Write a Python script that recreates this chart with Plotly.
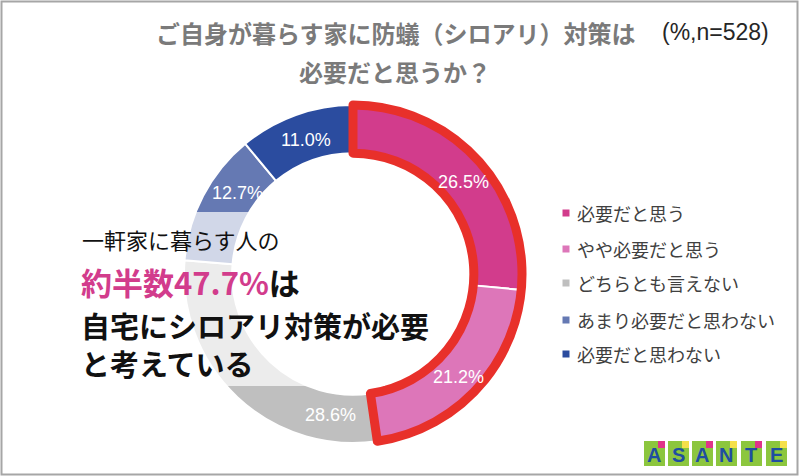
import plotly.graph_objects as go

# survey: is termite protection needed for your own house? (%, n=528)
categories = ["必要だと思う", "やや必要だと思う", "どちらとも言えない",
              "あまり必要だと思わない", "必要だと思わない"]
shares = [26.5, 21.2, 28.6, 12.7, 11.0]
colors = ["#d23c8c", "#dd76b9", "#bfbfbf", "#6579b3", "#2b4c9f"]
n_total = 528

W, H = 800, 476


def px(x):
    return x / W


def py(y):
    return 1 - y / H


need_share = round(shares[0] + shares[1], 1)

# --- donut geometry (pixels) ---
cx, cy, r = 353, 274, 169
dom = dict(x=[px(cx - r), px(cx + r)], y=[py(cy + r), py(cy - r)])

fig = go.Figure()
fig.add_trace(go.Pie(
    labels=categories, values=shares, hole=0.715, sort=False,
    direction="clockwise", rotation=0, domain=dom,
    marker=dict(colors=colors, line=dict(color="white", width=2)),
    textinfo="none", hoverinfo="label+value", showlegend=False,
))
# red outline around the "needed" group
fig.add_trace(go.Pie(
    labels=["必要（計）", "その他"], values=[need_share, round(100 - need_share, 1)],
    hole=0.715, sort=False, direction="clockwise", rotation=0, domain=dom,
    marker=dict(colors=["rgba(0,0,0,0)", "rgba(0,0,0,0)"],
                line=dict(color=["#e8302a", "rgba(0,0,0,0)"], width=[9, 0])),
    textinfo="none", hoverinfo="skip", showlegend=False,
))

shapes = []
annotations = []

# semi-transparent box behind the callout text
shapes.append(dict(type="rect", xref="paper", yref="paper",
                   x0=px(70), x1=px(385), y0=py(386), y1=py(212),
                   fillcolor="rgba(255,255,255,0.7)", line=dict(width=0),
                   layer="above"))

# percentage labels on the ring
label_pos = [(463, 182), (458, 377), (330, 415), (237, 193), (306, 140)]
for v, (lx, ly) in zip(shares, label_pos):
    annotations.append(dict(
        x=px(lx), y=py(ly), xref="paper", yref="paper", showarrow=False,
        text=f"{v:.1f}%", xanchor="center", yanchor="middle",
        font=dict(family="Liberation Sans, Arial", size=18, color="white")))

# legend drawn by hand
legend_y = [213, 249, 283, 320, 354]
for cat, col, ly in zip(categories, colors, legend_y):
    shapes.append(dict(type="rect", xref="paper", yref="paper",
                       xsizemode="pixel", ysizemode="pixel",
                       xanchor=px(566), yanchor=py(ly),
                       x0=-3.5, x1=3.5, y0=-3.5, y1=3.5,
                       fillcolor=col, line=dict(width=0)))
    annotations.append(dict(
        x=px(575), y=py(ly), xref="paper", yref="paper", showarrow=False,
        text=cat, xanchor="left", yanchor="middle",
        font=dict(family="Noto Sans CJK JP", size=18, color="#404040")))

# title
title_font = dict(family="Noto Sans CJK JP", size=24, color="#7a7a7a", weight="bold")
annotations.append(dict(x=px(396), y=py(33), xref="paper", yref="paper",
                        showarrow=False, xanchor="center", yanchor="middle",
                        text="ご自身が暮らす家に防蟻（シロアリ）対策は", font=title_font))
annotations.append(dict(x=px(395), y=py(71), xref="paper", yref="paper",
                        showarrow=False, xanchor="center", yanchor="middle",
                        text="必要だと思うか？", font=title_font))
annotations.append(dict(x=px(715), y=py(32), xref="paper", yref="paper",
                        showarrow=False, xanchor="center", yanchor="middle",
                        text=f"(%,n={n_total})",
                        font=dict(family="Liberation Sans, Arial", size=23, color="#262626")))

# callout text
jp = "Noto Sans CJK JP"
annotations.append(dict(x=px(80), y=py(239), xref="paper", yref="paper",
                        showarrow=False, xanchor="left", yanchor="middle",
                        text="一軒家に暮らす人の",
                        font=dict(family=jp, size=22, color="#111111")))
annotations.append(dict(x=px(79), y=py(281), xref="paper", yref="paper",
                        showarrow=False, xanchor="left", yanchor="middle",
                        text=f"<span style='color:#d23c8c'>約半数{need_share}%</span>は",
                        font=dict(family=jp, size=31, color="#111111", weight="bold")))
annotations.append(dict(x=px(79), y=py(344), xref="paper", yref="paper",
                        showarrow=False, xanchor="left", yanchor="middle", align="left",
                        text="自宅にシロアリ対策が必要<br>と考えている",
                        font=dict(family=jp, size=29, color="#111111", weight="bold")))

# ASANTE logo tiles
tile_x = [644, 668, 692, 716, 741, 766]
for i, (tx, ch) in enumerate(zip(tile_x, "ASANTE")):
    shapes.append(dict(type="rect", xref="paper", yref="paper",
                       x0=px(tx), x1=px(tx + 21), y0=py(466), y1=py(441),
                       fillcolor="#8cc63e", line=dict(width=0)))
    acc = "#e0338a" if i % 2 == 0 else "#f5e04a"
    shapes.append(dict(type="rect", xref="paper", yref="paper",
                       x0=px(tx + 14), x1=px(tx + 21), y0=py(448), y1=py(441),
                       fillcolor=acc, line=dict(width=0)))
    annotations.append(dict(x=px(tx + 10), y=py(455), xref="paper", yref="paper",
                            showarrow=False, xanchor="center", yanchor="middle",
                            text=f"<b>{ch}</b>",
                            font=dict(family="Liberation Sans", size=20, color="#1f4ea1")))

# outer frame
shapes.append(dict(type="rect", xref="paper", yref="paper",
                   x0=px(1.5), x1=px(797.5), y0=py(474.5), y1=py(1.5),
                   line=dict(color="#a6a6a6", width=2), fillcolor="rgba(0,0,0,0)"))

fig.update_layout(
    width=W, height=H,
    margin=dict(l=0, r=0, t=0, b=0),
    paper_bgcolor="white", plot_bgcolor="white",
    shapes=shapes, annotations=annotations,
    showlegend=False,
)

# drop the default page margin so the 800x476 figure fills the window
fig.write_html("out.html", config={"displayModeBar": False},
               post_script="document.body.style.margin='0';")
